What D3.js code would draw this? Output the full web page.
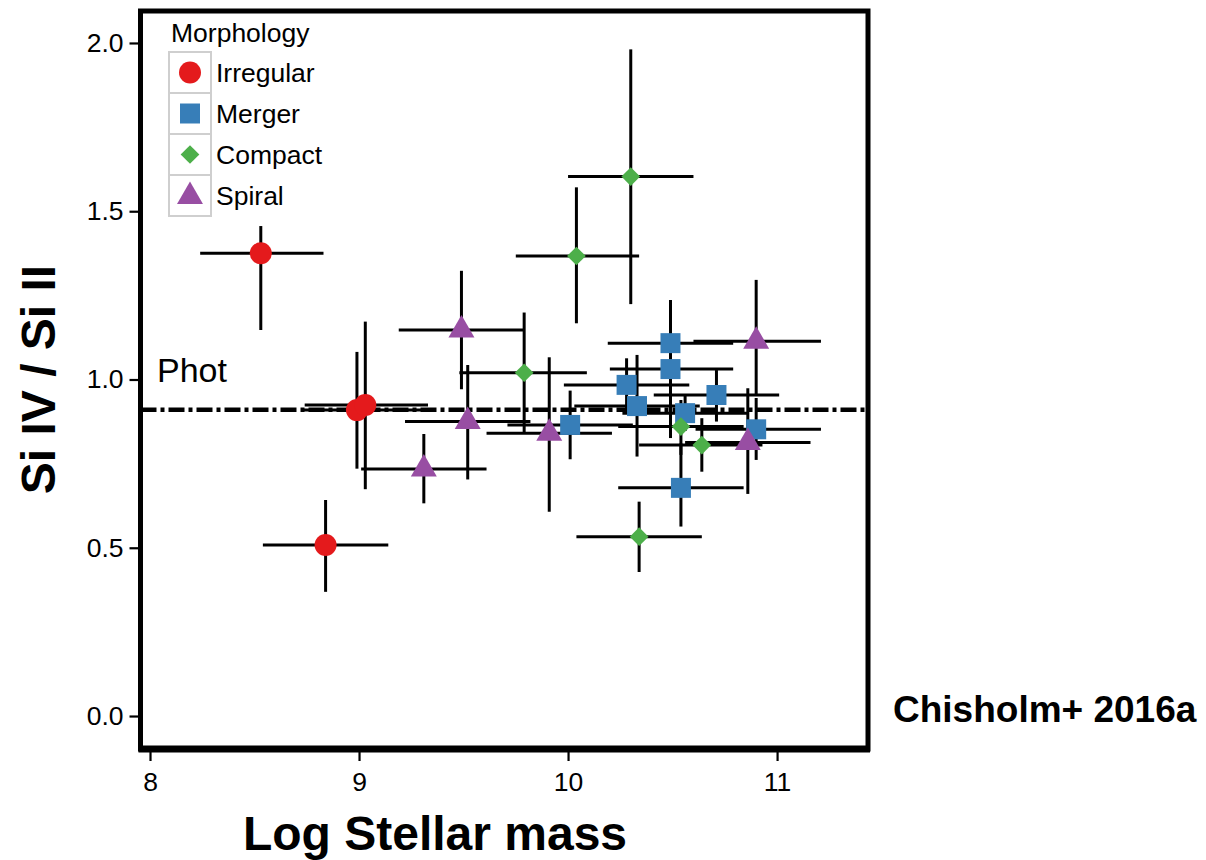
<!DOCTYPE html>
<html>
<head>
<meta charset="utf-8">
<script src="https://cdn.jsdelivr.net/npm/d3@7"></script>
<style>
  html, body { margin: 0; padding: 0; background: #fff; }
  svg { display: block; font-family: "Liberation Sans", Arial, Helvetica, sans-serif; }
</style>
</head>
<body>
<svg id="chart" width="1206" height="860"></svg>
<script>
// Si IV / Si II ratio versus log stellar mass, split by galaxy morphology
const morphologies = ["Irregular", "Merger", "Compact", "Spiral"];
const morphColors  = ["#E41A1C", "#377EB8", "#4DAF4A", "#984EA3"];

const morph = [
  "Irregular", "Irregular", "Irregular", "Irregular",
  "Merger", "Merger", "Merger", "Merger", "Merger", "Merger", "Merger", "Merger", "Merger",
  "Compact", "Compact", "Compact", "Compact", "Compact", "Compact",
  "Spiral", "Spiral", "Spiral", "Spiral", "Spiral", "Spiral"
];
const logMass   = [8.53, 8.84, 8.99, 9.03,
                   10.49, 10.49, 10.28, 10.33, 10.56, 10.71, 10.90, 10.01, 10.54,
                   10.30, 10.04, 9.79, 10.54, 10.64, 10.34,
                   9.49, 9.52, 9.31, 9.91, 10.90, 10.86];
const logMassLo = [8.24, 8.54, 8.73, 8.74,
                   10.19, 10.20, 9.98, 10.03, 10.26, 10.41, 10.61, 9.71, 10.24,
                   10.00, 9.75, 9.48, 10.24, 10.34, 10.04,
                   9.19, 9.22, 9.01, 9.61, 10.60, 10.56];
const logMassHi = [8.83, 9.14, 9.33, 9.33,
                   10.79, 10.79, 10.58, 10.63, 10.86, 11.01, 11.21, 10.31, 10.84,
                   10.60, 10.34, 10.09, 10.84, 10.93, 10.64,
                   9.79, 9.82, 9.61, 10.21, 11.21, 11.16];
const ratio     = [1.375, 0.508, 0.909, 0.924,
                   1.108, 1.031, 0.984, 0.921, 0.900, 0.954, 0.852, 0.865, 0.678,
                   1.603, 1.367, 1.020, 0.860, 0.805, 0.533,
                   1.147, 0.875, 0.734, 0.840, 1.114, 0.813];
const ratioLo   = [1.147, 0.369, 0.735, 0.674,
                   0.979, 0.826, 0.903, 0.771, 0.847, 0.875, 0.761, 0.763, 0.563,
                   1.224, 1.167, 0.840, 0.776, 0.726, 0.428,
                   0.971, 0.703, 0.632, 0.607, 0.951, 0.660];
const ratioHi   = [1.456, 0.642, 1.082, 1.172,
                   1.236, 1.236, 1.063, 1.073, 0.951, 1.028, 0.945, 0.967, 0.810,
                   1.981, 1.571, 1.199, 0.939, 0.885, 0.637,
                   1.323, 1.043, 0.838, 1.066, 1.296, 0.974];

const photRatio = 0.91;
const xTicks = [8, 9, 10, 11];
const yTicks = [0.0, 0.5, 1.0, 1.5, 2.0];

const rows = logMass.map((m, i) => ({
  morph: morph[i], x: m, xlo: logMassLo[i], xhi: logMassHi[i],
  y: ratio[i], ylo: ratioLo[i], yhi: ratioHi[i]
}));

const svg = d3.select("#chart");
const panel = { left: 140.5, right: 868, top: 11, bottom: 749 };

const x = d3.scaleLinear().domain([7.9545, 11.435]).range([panel.left, panel.right]);
const y = d3.scaleLinear().domain([-0.098, 2.095]).range([panel.bottom, panel.top]);

const color = d3.scaleOrdinal().domain(morphologies).range(morphColors);
const shapeOf = {
  Irregular: { type: d3.symbolCircle,   size: 380, rotate: 0 },
  Merger:    { type: d3.symbolSquare,   size: 400, rotate: 0 },
  Compact:   { type: d3.symbolSquare,   size: 175, rotate: 45 },
  Spiral:    { type: d3.symbolTriangle, size: 292, rotate: 0 }
};
const symbolPath = m => d3.symbol().type(shapeOf[m].type).size(shapeOf[m].size)();

// axes
const yAxis = d3.axisLeft(y).tickValues(yTicks).tickFormat(d3.format(".1f")).tickSize(9).tickPadding(6);
const xAxis = d3.axisBottom(x).tickValues(xTicks).tickFormat(d3.format("d")).tickSize(9).tickPadding(6);

const gy = svg.append("g").attr("transform", `translate(${panel.left - 2},0)`).call(yAxis);
const gx = svg.append("g").attr("transform", `translate(0,${panel.bottom + 3})`).call(xAxis);
[gy, gx].forEach(g => {
  g.select(".domain").remove();
  g.selectAll(".tick line").attr("stroke", "#000").attr("stroke-width", 2.2);
  g.selectAll(".tick text").attr("fill", "#000").attr("font-size", 26.5)
    .attr("font-family", "'Liberation Sans', Arial, sans-serif");
});
gx.selectAll(".tick text").attr("dy", "0.9em");

// error bars
const bars = svg.append("g").attr("stroke", "#000").attr("stroke-width", 3);
bars.selectAll("line.h").data(rows).join("line").attr("class", "h")
  .attr("x1", d => x(d.xlo)).attr("x2", d => x(d.xhi))
  .attr("y1", d => y(d.y)).attr("y2", d => y(d.y));
bars.selectAll("line.v").data(rows).join("line").attr("class", "v")
  .attr("x1", d => x(d.x)).attr("x2", d => x(d.x))
  .attr("y1", d => y(d.ylo)).attr("y2", d => y(d.yhi));

// photoionisation reference line
svg.append("line")
  .attr("x1", panel.left).attr("x2", panel.right)
  .attr("y1", y(photRatio)).attr("y2", y(photRatio))
  .attr("stroke", "#000").attr("stroke-width", 4.5)
  .attr("stroke-dasharray", "16 4 4 4");
svg.append("text").attr("x", 157).attr("y", y(photRatio) - 28)
  .attr("font-size", 34).attr("fill", "#000").text("Phot");

// points
svg.append("g").selectAll("path").data(rows).join("path")
  .attr("d", d => symbolPath(d.morph))
  .attr("transform", d => `translate(${x(d.x)},${y(d.y)}) rotate(${shapeOf[d.morph].rotate})`)
  .attr("fill", d => color(d.morph));

// panel frame
svg.append("rect")
  .attr("x", panel.left).attr("y", panel.top)
  .attr("width", panel.right - panel.left).attr("height", panel.bottom - panel.top)
  .attr("fill", "none").attr("stroke", "#000").attr("stroke-width", 5);
svg.append("line")
  .attr("x1", panel.left - 2).attr("x2", panel.right + 2)
  .attr("y1", panel.bottom).attr("y2", panel.bottom)
  .attr("stroke", "#000").attr("stroke-width", 7);

// legend
const legend = svg.append("g").attr("transform", "translate(169,0)");
legend.append("text").attr("x", 2).attr("y", 42).attr("font-size", 26.5).text("Morphology");
const keyH = 41, keyW = 42, keyTop = 52;
const item = legend.selectAll("g.item").data(morphologies).join("g")
  .attr("class", "item")
  .attr("transform", (d, i) => `translate(0,${keyTop + i * keyH})`);
item.append("rect").attr("width", keyW).attr("height", keyH)
  .attr("fill", "#fff").attr("stroke", "#cfcfcf").attr("stroke-width", 2);
item.append("path")
  .attr("d", d => symbolPath(d))
  .attr("transform", d => `translate(${keyW / 2},${keyH / 2 + (d === "Spiral" ? 1 : 0)}) rotate(${shapeOf[d].rotate})`)
  .attr("fill", d => color(d));
item.append("text").attr("x", keyW + 5).attr("y", keyH / 2 + 9)
  .attr("font-size", 26.5).text(d => d);

// axis titles
svg.append("text").attr("x", 435).attr("y", 850).attr("text-anchor", "middle")
  .attr("font-size", 48).attr("font-weight", "bold").text("Log Stellar mass");
svg.append("text").attr("transform", `translate(55,${y(1.0)}) rotate(-90)`)
  .attr("text-anchor", "middle").attr("font-size", 48).attr("font-weight", "bold")
  .text("Si IV / Si II");
svg.append("text").attr("x", 893).attr("y", 722)
  .attr("font-size", 37).attr("font-weight", "bold").text("Chisholm+ 2016a");
</script>
</body>
</html>
